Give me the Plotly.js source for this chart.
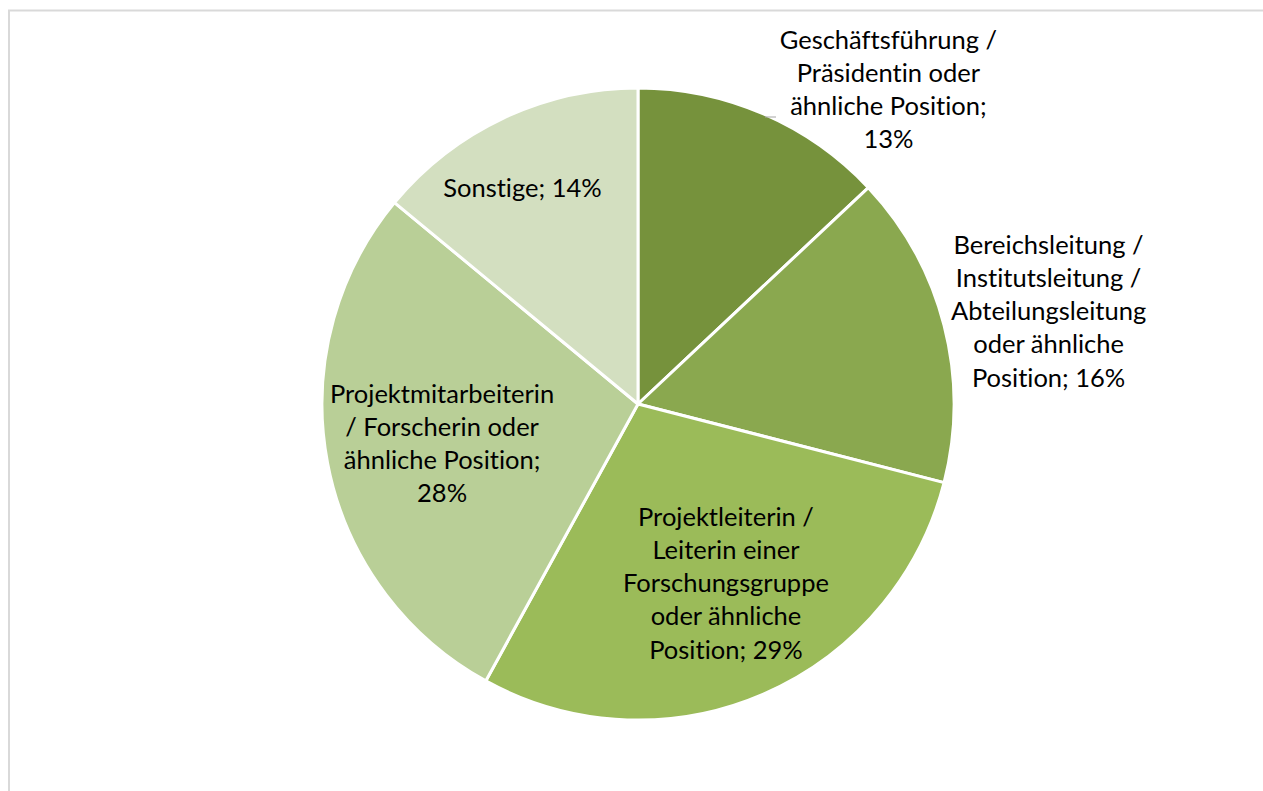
<!DOCTYPE html>
<html>
<head>
<meta charset="utf-8">
<script src="https://cdn.plot.ly/plotly-3.0.1.min.js"></script>
<style>
html,body{margin:0;padding:0;background:#fff;}
#chart{width:1263px;height:791px;}
#chart text{font-variant-ligatures:none;font-feature-settings:"liga" 0, "clig" 0;}
</style>
</head>
<body>
<div id="chart"></div>
<script>
const categories = [
  "Geschäftsführung /<br>Präsidentin oder<br>ähnliche Position",
  "Bereichsleitung /<br>Institutsleitung /<br>Abteilungsleitung<br>oder ähnliche<br>Position",
  "Projektleiterin /<br>Leiterin einer<br>Forschungsgruppe<br>oder ähnliche<br>Position",
  "Projektmitarbeiterin<br>/ Forscherin oder<br>ähnliche Position;<br>",
  "Sonstige"
];
const values = [13, 16, 29, 28, 14];
const colors = ["#76923C", "#8AA84F", "#9BBB59", "#B9CF97", "#D3DFC0"];

const W = 1263, H = 791;
// label anchor positions in pixels (x, y of block centre)
const labelPos = [[888, 89], [1048, 310], [726, 582], [442, 442], [522, 187]];

const labelText = categories.map((c, i) => {
  if (i === 3) return c + values[i] + "%";
  if (i === 0) return c + ";<br>" + values[i] + "%";
  return c + "; " + values[i] + "%";
});

const cx = 638, cy = 404, r = 316;

const trace = {
  type: "pie",
  labels: categories,
  values: values,
  sort: false,
  direction: "clockwise",
  rotation: 0,
  textinfo: "none",
  hoverinfo: "none",
  showlegend: false,
  marker: {colors: colors, line: {color: "#FFFFFF", width: 3}},
  domain: {x: [(cx - r) / W, (cx + r) / W], y: [1 - (cy + r) / H, 1 - (cy - r) / H]}
};

const annotations = labelText.map((t, i) => ({
  text: t,
  x: labelPos[i][0] / W,
  y: 1 - labelPos[i][1] / H,
  xref: "paper", yref: "paper",
  xanchor: "center", yanchor: "middle",
  showarrow: false,
  align: "center",
  font: {family: "Lato, 'Liberation Sans', sans-serif", size: 25.5, color: "#000000"}
}));

const layout = {
  width: W, height: H,
  margin: {l: 0, r: 0, t: 0, b: 0},
  paper_bgcolor: "#FFFFFF",
  annotations: annotations,
  shapes: [
    {type: "rect", xref: "paper", yref: "paper", x0: 9 / W, x1: 1.05, y0: -0.05, y1: 1 - 10.5 / H,
     line: {color: "#D9D9D9", width: 2}, fillcolor: "rgba(0,0,0,0)"},
    {type: "line", xref: "paper", yref: "paper", x0: 765 / W, x1: 776 / W, y0: 1 - 117 / H, y1: 1 - 117 / H,
     line: {color: "#A6A6A6", width: 1}}
  ]
};

Plotly.newPlot("chart", [trace], layout, {staticPlot: true});
</script>
</body>
</html>
